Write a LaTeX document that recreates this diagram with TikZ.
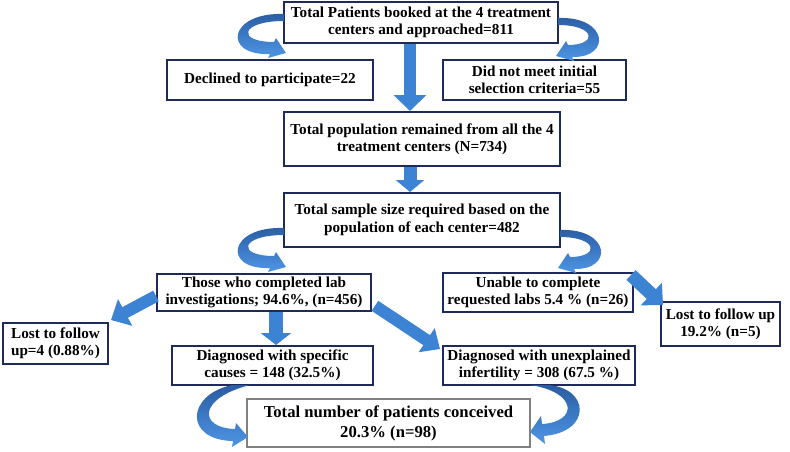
\documentclass[tikz,border=0pt]{standalone}
\usepackage{fontspec}
\setmainfont{Liberation Serif}
\usetikzlibrary{arrows.meta}
\definecolor{navy}{RGB}{30,42,90}
\definecolor{ablue}{RGB}{61,131,212}
\definecolor{adark}{RGB}{42,92,162}
\definecolor{alight}{RGB}{78,150,230}
\begin{document}
\begin{tikzpicture}[x=0.75pt,y=-0.75pt,
  box/.style={draw=navy, line width=1.5pt, fill=white, align=center,
    font=\fontsize{11.4}{13}\selectfont\bfseries, inner sep=0pt, text=black},
  wh/.style 2 args={minimum width=#1*0.75pt, minimum height=#2*0.75pt},
  barrow/.style n args={3}{ablue, line width=#1, -{Triangle[width=#2,length=#3]}},
  cshade/.style={top color=adark, bottom color=alight}
]
\useasboundingbox (0,0) rectangle (790,451);

% boxes
\node[box, wh={274}{41}] (b1) at (421,22.5) {Total Patients booked at the 4 treatment\\centers and approached=811};
\node[box, wh={206}{40}] (decl) at (270,80) {Declined to participate=22};
\node[box, wh={183}{40}] (nm) at (534.5,80) {Did not meet initial\\selection criteria=55};
\node[box, wh={276}{54}] (b2) at (422,139) {Total population remained from all the 4\\treatment centers (N=734)};
\node[box, wh={276}{54}] (b3) at (422,220) {Total sample size required based on the\\population of each center=482};
\node[box, wh={214}{37}] (b4) at (264,292.5) {Those who completed lab\\investigations; 94.6\%, (n=456)};
\node[box, wh={105}{41}] (lostL) at (55.5,343.5) {Lost to follow\\up=4 (0.88\%)};
\node[box, wh={190}{39}] (unable) at (538,292.5) {Unable to complete\\requested labs 5.4 \% (n=26)};
\node[box, wh={119}{44}] (lostR) at (720.5,324) {Lost to follow up\\19.2\% (n=5)};
\node[box, wh={201}{39}] (spec) at (272.5,365.5) {Diagnosed with specific\\causes = 148 (32.5\%)};
\node[box, wh={192}{39}] (unexp) at (539,365.5) {Diagnosed with unexplained\\infertility = 308 (67.5 \%)};
\node[box, draw=gray, line width=1.1pt, wh={283}{48}, font=\fontsize{12.5}{15}\selectfont\bfseries] (conc) at (388.5,423) {Total number of patients conceived\\20.3\% (n=98)};

% straight block arrows
\coordinate (ax) at (410,0);
\coordinate (ay) at (276,0);
\draw[barrow={9pt}{24pt}{12pt}] (b1.south -| ax) -- (b2.north -| ax);
\draw[barrow={9.75pt}{21pt}{9pt}] (b2.south -| ax) -- (b3.north -| ax);
\draw[barrow={11pt}{22.5pt}{9pt}] (b4.south -| ay) -- (spec.north -| ay);
\draw[barrow={9pt}{22pt}{12pt}] ([yshift=-2.6pt]b4.west) -- ([xshift=1.5pt,yshift=1.5pt]lostL.north east);
\draw[barrow={9pt}{21pt}{12pt}] ([xshift=2.25pt,yshift=-10pt]b4.east) -- ([xshift=-1.5pt,yshift=-3pt]unexp.north west);
\draw[barrow={10pt}{22.5pt}{12pt}] ([xshift=-2.25pt,yshift=-2.25pt]unable.north east) -- ([xshift=2.25pt,yshift=-3pt]lostR.north west);

% curved arrows
\newcommand\curvL{(284,14) .. controls (228,12) and (222,56) .. (270,54) -- (268,58) -- (286,53) -- (276,38) -- (274,42) .. controls (236,42) and (240,21) .. (284,21) -- cycle}
\newcommand\curvR{(558,18) .. controls (608,16) and (612,58) .. (572,57) -- (574,61) -- (556,56) -- (566,41) -- (568,45) .. controls (598,45) and (596,25) .. (558,25) -- cycle}
\shade[cshade] \curvL;
\shade[cshade] \curvR;
\begin{scope}[shift={(0,214)}]
\shade[cshade] \curvL;
\end{scope}
\begin{scope}[shift={(2,212)}]
\shade[cshade] \curvR;
\end{scope}
\shade[cshade] (232,385) .. controls (186,395) and (184,440) .. (233,441) -- (232,447) -- (248,437) -- (236,423) -- (235,429) .. controls (198,428) and (198,398) .. (250,385) -- cycle;
\shade[cshade] (548,385) .. controls (590,388) and (592,432) .. (544,436) -- (545,444) -- (530,432) -- (541,416) -- (542,424) .. controls (578,422) and (578,392) .. (530,385) -- cycle;
\end{tikzpicture}
\end{document}
